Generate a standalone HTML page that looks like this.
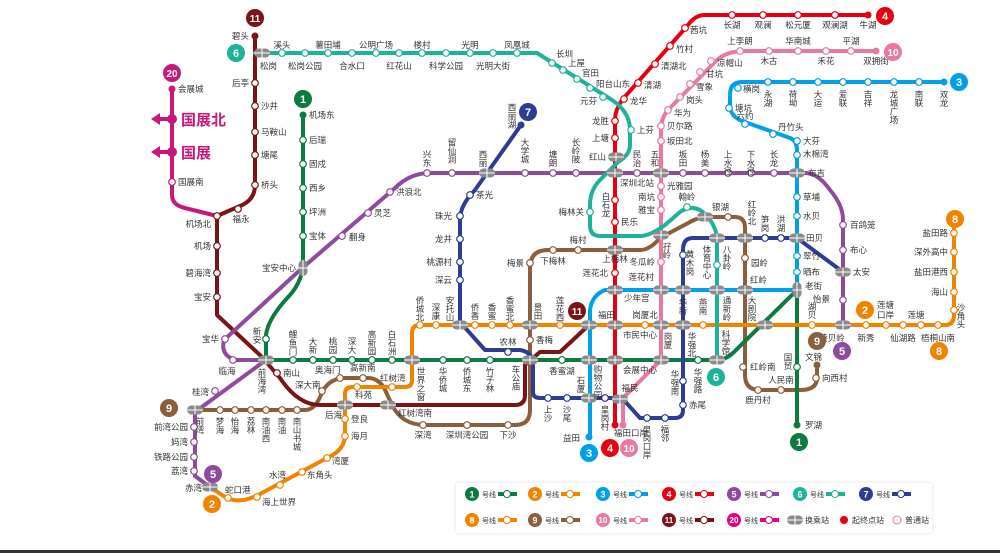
<!DOCTYPE html>
<html><head><meta charset="utf-8">
<style>
html,body{margin:0;padding:0;background:#fff;}
svg{display:block;}
text{font-family:"Liberation Sans","Noto Sans CJK SC",sans-serif;font-size:8.5px;fill:#333;}
.v{writing-mode:vertical-rl;text-orientation:upright;}
.e{text-anchor:end;}
.m{text-anchor:middle;}
.b{font-weight:bold;fill:#fff;text-anchor:middle;font-size:11px;}
.ln{fill:none;stroke-width:4;stroke-linejoin:round;stroke-linecap:round;}
.st circle{fill:#fff;stroke-width:1.2;}
</style></head><body>
<svg width="1000" height="553" viewBox="0 0 1000 553" xmlns="http://www.w3.org/2000/svg">
<defs>
<g id="ix"><rect x="-8" y="-4.5" width="16" height="9" rx="4.5" fill="#8a8a8a"/><path d="M0,-4.5V4.5M-8,0H8" stroke="#fff" stroke-width="1"/></g>
<g id="ixv"><rect x="-4.5" y="-8" width="9" height="16" rx="4.5" fill="#8a8a8a"/><path d="M0,-8V8M-4.5,0H4.5" stroke="#fff" stroke-width="1"/></g>
</defs>
<rect width="1000" height="553" fill="#fff"/>
<rect x="0" y="550" width="1000" height="3" fill="#333"/>

<!-- LINES -->
<path class="ln" stroke="#8B5E3C" d="M195,410 H305 Q316,410 322,392 Q330,378 345,378 H368 Q380,378 386,392 L392,405 Q402,425 425,425 H515 Q530,425 530,410 V268 Q530,250 548,250 H640 Q650,250 660,238 L690,222 Q698,217 710,217 H735 Q745,217 745,228 V375 Q745,390 760,390 H800 Q817,390 817,378 V365"/>
<path class="ln" stroke="#7A1419" d="M255,36 V185 Q255,200 240,206 L217,216 V315 L262,357 L280,378 Q298,405 320,405 H515 Q525,405 525,395 V365 L540,352 H560 L589,325"/>
<path class="ln" stroke="#C7177B" d="M172,89 V195 Q172,205 185,208 L217,216"/>
<path class="ln" stroke="#0B7B3E" d="M303,115 V262 Q303,280 290,295 Q268,318 266,335 V360 H717 Q726,360 734,352 L797,290 V425"/>
<path class="ln" stroke="#8E4B9E" d="M210,487 L195,476 V412 L266,360 H236 Q220,356 224,340 L300,270 L395,188 Q410,173 430,173 H805 Q818,173 830,190 Q843,205 843,220 V325"/>
<path class="ln" stroke="#F08300" d="M210,487 L225,497 Q240,505 260,494 L327,458 Q345,450 345,435 V394 Q345,387 352,387 H405 Q412,387 412,380 V333 Q412,325 420,325 H945 Q954,325 954,315 V228"/>
<path class="ln" stroke="#00A0E9" d="M944,82 H742 Q730,82 730,95 V108 Q732,118 745,122 L790,138 Q797,141 797,150 V290 H605 Q592,295 590,310 V437"/>
<path class="ln" stroke="#E9799F" d="M876,51 H745 Q725,51 715,62 L668,110 Q661,118 661,130 V360 L623,398 V425"/>
<path class="ln" stroke="#E60012" d="M868,15 H705 Q695,15 688,25 L622,100 Q615,110 615,120 V425"/>
<path class="ln" stroke="#1DB39A" d="M255,53 H537 L612,100 Q630,112 630,130 V145 Q630,155 618,162 L600,180 Q590,190 590,205 V225 Q590,236 600,236 H640 Q650,236 665,225 L680,212 Q690,205 700,210 Q712,218 717,235 V360"/>
<path class="ln" stroke="#2E3C95" d="M521,125 L475,190 Q460,205 460,220 V322 L485,350 H520 Q533,352 533,365 V392 Q533,398 540,398 H622 L640,418 H675 Q683,418 683,410 V250 Q683,238 693,238 H797 L843,272"/>
<!-- line 20 arrows -->
<path d="M172,119 H158 M172,152 H158" stroke="#C7177B" stroke-width="4"/>
<polygon points="151,119 160,113 160,125" fill="#C7177B"/>
<polygon points="151,152 160,146 160,158" fill="#C7177B"/>
<circle cx="172" cy="119" r="5" fill="#C7177B"/><circle cx="172" cy="152" r="5" fill="#C7177B"/>
<text x="181" y="125" style="font-size:15px;font-weight:bold;fill:#C7177B">国展北</text>
<text x="181" y="158" style="font-size:15px;font-weight:bold;fill:#C7177B">国展</text>

<!-- STATIONS -->
<g class="st" stroke="#7A1419"><circle cx="255" cy="83" r="3.3"/><circle cx="255" cy="106" r="3.3"/><circle cx="255" cy="132" r="3.3"/><circle cx="255" cy="155" r="3.3"/><circle cx="255" cy="185" r="3.3"/><circle cx="238" cy="209" r="3.3"/><circle cx="217" cy="216" r="3.3"/><circle cx="217" cy="246" r="3.3"/><circle cx="217" cy="273" r="3.3"/><circle cx="217" cy="297" r="3.3"/><circle cx="277" cy="373" r="3.3"/></g>
<circle cx="255" cy="36" r="3.5" fill="#7A1419"/>
<g class="st" stroke="#C7177B"><circle cx="172" cy="182" r="3.3"/></g><circle cx="172" cy="89" r="3.5" fill="#C7177B"/>
<g class="st" stroke="#1DB39A"><circle cx="282" cy="53" r="3.3"/><circle cx="305" cy="53" r="3.3"/><circle cx="328" cy="53" r="3.3"/><circle cx="352" cy="53" r="3.3"/><circle cx="376" cy="53" r="3.3"/><circle cx="399" cy="53" r="3.3"/><circle cx="422" cy="53" r="3.3"/><circle cx="446" cy="53" r="3.3"/><circle cx="470" cy="53" r="3.3"/><circle cx="493" cy="53" r="3.3"/><circle cx="517" cy="53" r="3.3"/><circle cx="552" cy="63" r="3.3"/><circle cx="563" cy="70" r="3.3"/><circle cx="577" cy="79" r="3.3"/><circle cx="590" cy="88" r="3.3"/><circle cx="603" cy="97" r="3.3"/><circle cx="631" cy="130" r="3.3"/><circle cx="590" cy="212" r="3.3"/><circle cx="687" cy="207" r="3.3"/><circle cx="717" cy="265" r="3.3"/></g>
<g class="st" stroke="#E60012"><circle cx="732" cy="15" r="3.3"/><circle cx="763" cy="15" r="3.3"/><circle cx="798" cy="15" r="3.3"/><circle cx="835" cy="15" r="3.3"/><circle cx="685" cy="28" r="3.3"/><circle cx="670" cy="46" r="3.3"/><circle cx="655" cy="64" r="3.3"/><circle cx="638" cy="83" r="3.3"/><circle cx="624" cy="99" r="3.3"/><circle cx="615" cy="121" r="3.3"/><circle cx="615" cy="138" r="3.3"/><circle cx="615" cy="200" r="3.3"/><circle cx="615" cy="222" r="3.3"/><circle cx="615" cy="273" r="3.3"/></g>
<circle cx="868" cy="15" r="3.5" fill="#E60012"/><circle cx="615" cy="425" r="3.5" fill="#E60012"/>
<g class="st" stroke="#E9799F"><circle cx="740" cy="51" r="3.3"/><circle cx="769" cy="51" r="3.3"/><circle cx="798" cy="51" r="3.3"/><circle cx="826" cy="51" r="3.3"/><circle cx="851" cy="51" r="3.3"/><circle cx="711" cy="61" r="3.3"/><circle cx="700" cy="72" r="3.3"/><circle cx="690" cy="84" r="3.3"/><circle cx="680" cy="97" r="3.3"/><circle cx="668" cy="110" r="3.3"/><circle cx="661" cy="126" r="3.3"/><circle cx="661" cy="141" r="3.3"/><circle cx="661" cy="186" r="3.3"/><circle cx="661" cy="197" r="3.3"/><circle cx="661" cy="210" r="3.3"/><circle cx="661" cy="262" r="3.3"/></g>
<circle cx="876" cy="51" r="3.5" fill="#E9799F"/><circle cx="623" cy="425" r="3.5" fill="#E9799F"/>
<g class="st" stroke="#00A0E9"><circle cx="768" cy="82" r="3.3"/><circle cx="793" cy="82" r="3.3"/><circle cx="818" cy="82" r="3.3"/><circle cx="843" cy="82" r="3.3"/><circle cx="868" cy="82" r="3.3"/><circle cx="894" cy="82" r="3.3"/><circle cx="919" cy="82" r="3.3"/><circle cx="738" cy="88" r="3.3"/><circle cx="729" cy="108" r="3.3"/><circle cx="745" cy="124" r="3.3"/><circle cx="773" cy="134" r="3.3"/><circle cx="797" cy="141" r="3.3"/><circle cx="797" cy="155" r="3.3"/><circle cx="797" cy="197" r="3.3"/><circle cx="797" cy="216" r="3.3"/><circle cx="797" cy="256" r="3.3"/><circle cx="797" cy="272" r="3.3"/></g>
<circle cx="944" cy="82" r="3.5" fill="#00A0E9"/><circle cx="589" cy="437" r="3.5" fill="#00A0E9"/>
<g class="st" stroke="#8E4B9E"><circle cx="843" cy="300" r="3.3"/><circle cx="843" cy="250" r="3.3"/><circle cx="843" cy="225" r="3.3"/><circle cx="774" cy="173" r="3.3"/><circle cx="751" cy="173" r="3.3"/><circle cx="728" cy="173" r="3.3"/><circle cx="705" cy="173" r="3.3"/><circle cx="683" cy="173" r="3.3"/><circle cx="637" cy="173" r="3.3"/><circle cx="576" cy="173" r="3.3"/><circle cx="553" cy="173" r="3.3"/><circle cx="525" cy="173" r="3.3"/><circle cx="452" cy="173" r="3.3"/><circle cx="427" cy="173" r="3.3"/><circle cx="390" cy="192" r="3.3"/><circle cx="368" cy="213" r="3.3"/><circle cx="342" cy="236" r="3.3"/><circle cx="225" cy="339" r="3.3"/><circle cx="233" cy="360" r="3.3"/><circle cx="215" cy="391" r="3.3"/><circle cx="194" cy="427" r="3.3"/><circle cx="194" cy="442" r="3.3"/><circle cx="194" cy="457" r="3.3"/><circle cx="194" cy="471" r="3.3"/></g>
<g class="st" stroke="#2E3C95"><circle cx="470" cy="195" r="3.3"/><circle cx="460" cy="216" r="3.3"/><circle cx="460" cy="239" r="3.3"/><circle cx="460" cy="262" r="3.3"/><circle cx="460" cy="280" r="3.3"/><circle cx="508" cy="352" r="3.3"/><circle cx="548" cy="398" r="3.3"/><circle cx="567" cy="398" r="3.3"/><circle cx="605" cy="398" r="3.3"/><circle cx="647" cy="418" r="3.3"/><circle cx="665" cy="418" r="3.3"/><circle cx="683" cy="405" r="3.3"/><circle cx="683" cy="381" r="3.3"/><circle cx="683" cy="255" r="3.3"/><circle cx="765" cy="238" r="3.3"/><circle cx="781" cy="238" r="3.3"/></g>
<circle cx="521" cy="125" r="3.5" fill="#2E3C95"/>
<g class="st" stroke="#8B5E3C"><circle cx="220" cy="410" r="3.3"/><circle cx="235" cy="410" r="3.3"/><circle cx="251" cy="410" r="3.3"/><circle cx="266" cy="410" r="3.3"/><circle cx="282" cy="410" r="3.3"/><circle cx="297" cy="410" r="3.3"/><circle cx="322" cy="391" r="3.3"/><circle cx="340" cy="378" r="3.3"/><circle cx="363" cy="378" r="3.3"/><circle cx="423" cy="425" r="3.3"/><circle cx="467" cy="425" r="3.3"/><circle cx="508" cy="425" r="3.3"/><circle cx="530" cy="340" r="3.3"/><circle cx="530" cy="263" r="3.3"/><circle cx="553" cy="250" r="3.3"/><circle cx="578" cy="250" r="3.3"/><circle cx="728" cy="217" r="3.3"/><circle cx="745" cy="258" r="3.3"/><circle cx="743" cy="367" r="3.3"/><circle cx="758" cy="390" r="3.3"/><circle cx="781" cy="390" r="3.3"/><circle cx="816" cy="378" r="3.3"/></g>
<circle cx="817" cy="365" r="3.5" fill="#8B5E3C"/>
<g class="st" stroke="#0B7B3E"><circle cx="303" cy="140" r="3.3"/><circle cx="303" cy="164" r="3.3"/><circle cx="303" cy="188" r="3.3"/><circle cx="303" cy="212" r="3.3"/><circle cx="303" cy="236" r="3.3"/><circle cx="266" cy="339" r="3.3"/><circle cx="293" cy="360" r="3.3"/><circle cx="313" cy="360" r="3.3"/><circle cx="333" cy="360" r="3.3"/><circle cx="352" cy="360" r="3.3"/><circle cx="372" cy="360" r="3.3"/><circle cx="392" cy="360" r="3.3"/><circle cx="443" cy="360" r="3.3"/><circle cx="467" cy="360" r="3.3"/><circle cx="490" cy="360" r="3.3"/><circle cx="562" cy="360" r="3.3"/><circle cx="698" cy="360" r="3.3"/><circle cx="797" cy="367" r="3.3"/></g>
<circle cx="303" cy="115" r="3.5" fill="#0B7B3E"/><circle cx="797" cy="425" r="3.5" fill="#0B7B3E"/>
<g class="st" stroke="#F08300"><circle cx="228" cy="498" r="3.3"/><circle cx="257" cy="497" r="3.3"/><circle cx="280" cy="485" r="3.3"/><circle cx="302" cy="472" r="3.3"/><circle cx="327" cy="458" r="3.3"/><circle cx="345" cy="436" r="3.3"/><circle cx="345" cy="419" r="3.3"/><circle cx="357" cy="387" r="3.3"/><circle cx="392" cy="387" r="3.3"/><circle cx="420" cy="325" r="3.3"/><circle cx="436" cy="325" r="3.3"/><circle cx="475" cy="325" r="3.3"/><circle cx="492" cy="325" r="3.3"/><circle cx="510" cy="325" r="3.3"/><circle cx="560" cy="325" r="3.3"/><circle cx="645" cy="325" r="3.3"/><circle cx="703" cy="325" r="3.3"/><circle cx="812" cy="325" r="3.3"/><circle cx="866" cy="325" r="3.3"/><circle cx="886" cy="325" r="3.3"/><circle cx="903" cy="325" r="3.3"/><circle cx="921" cy="325" r="3.3"/><circle cx="938" cy="325" r="3.3"/><circle cx="954" cy="310" r="3.3"/><circle cx="954" cy="292" r="3.3"/><circle cx="954" cy="272" r="3.3"/><circle cx="954" cy="252" r="3.3"/><circle cx="954" cy="233" r="3.3"/></g>

<!-- INTERCHANGES -->
<g>
<use href="#ix" x="262" y="53"/><use href="#ixv" x="303" y="268"/><use href="#ix" x="266" y="360"/>
<use href="#ix" x="195" y="410"/><use href="#ix" x="210" y="487"/><use href="#ix" x="345" y="405"/><use href="#ix" x="388" y="405"/>
<use href="#ix" x="412" y="360"/><use href="#ix" x="460" y="325"/><use href="#ix" x="530" y="325"/><use href="#ix" x="530" y="360"/>
<use href="#ix" x="487" y="173"/><use href="#ix" x="616" y="157"/><use href="#ix" x="615" y="173"/><use href="#ix" x="661" y="173"/>
<use href="#ix" x="797" y="173"/><use href="#ix" x="661" y="235"/><use href="#ix" x="705" y="217"/><use href="#ix" x="717" y="238"/>
<use href="#ix" x="745" y="238"/><use href="#ix" x="797" y="238"/><use href="#ix" x="843" y="272"/><use href="#ix" x="615" y="250"/>
<use href="#ix" x="615" y="290"/><use href="#ix" x="661" y="290"/><use href="#ix" x="683" y="290"/><use href="#ix" x="717" y="290"/>
<use href="#ix" x="745" y="290"/><use href="#ixv" x="797" y="290"/><use href="#ix" x="589" y="325"/><use href="#ix" x="615" y="325"/>
<use href="#ix" x="661" y="325"/><use href="#ix" x="683" y="325"/><use href="#ix" x="765" y="325"/><use href="#ix" x="843" y="325"/>
<use href="#ix" x="589" y="360"/><use href="#ix" x="615" y="360"/><use href="#ix" x="661" y="360"/><use href="#ix" x="717" y="360"/>
<use href="#ix" x="589" y="398"/><use href="#ix" x="620" y="399"/>
</g>

<!-- LABELS -->
<g>
<text x="249" y="39" class="e">碧头</text><text x="249" y="86" class="e">后亭</text><text x="261" y="109">沙井</text><text x="261" y="135">马鞍山</text><text x="261" y="158">塘尾</text><text x="261" y="188">桥头</text>
<text x="241" y="222" class="m">福永</text><text x="211" y="227" class="e">机场北</text><text x="211" y="249" class="e">机场</text><text x="211" y="276" class="e">碧海湾</text><text x="211" y="300" class="e">宝安</text>
<text x="178" y="92">会展城</text><text x="178" y="185">国展南</text>
<text x="260" y="69">松岗</text><text x="282" y="48" class="m">溪头</text><text x="305" y="69" class="m">松岗公园</text><text x="328" y="48" class="m">薯田埔</text><text x="352" y="69" class="m">合水口</text><text x="376" y="48" class="m">公明广场</text><text x="399" y="69" class="m">红花山</text><text x="422" y="48" class="m">楼村</text><text x="446" y="69" class="m">科学公园</text><text x="470" y="48" class="m">光明</text><text x="493" y="69" class="m">光明大街</text><text x="517" y="48" class="m">凤凰城</text>
<text x="556" y="57">长圳</text><text x="568" y="66">上屋</text><text x="582" y="76">官田</text><text x="596" y="87">阳台山东</text><text x="597" y="104" class="e">元芬</text><text x="637" y="133">上芬</text>
<text x="309" y="118">机场东</text><text x="309" y="143">后瑞</text><text x="309" y="167">固戍</text><text x="309" y="191">西乡</text><text x="309" y="215">坪洲</text><text x="309" y="239">宝体</text><text x="296" y="271" class="e">宝安中心</text>
<text x="349" y="240">翻身</text><text x="374" y="216">灵芝</text><text x="396" y="195">洪浪北</text>
<text x="219" y="342" class="e">宝华</text><text x="227" y="374" class="m">临海</text><text x="209" y="395" class="e">桂湾</text>
<text x="188" y="430" class="e">前湾公园</text><text x="188" y="445" class="e">妈湾</text><text x="188" y="460" class="e">铁路公园</text><text x="188" y="474" class="e">荔湾</text><text x="202" y="491" class="e">赤湾</text>
<text x="225" y="493">蛇口港</text><text x="262" y="505">海上世界</text><text x="269" y="478">水湾</text><text x="307" y="478">东角头</text><text x="332" y="464">湾厦</text><text x="351" y="439">海月</text><text x="351" y="422">登良</text><text x="325" y="418">后海</text><text x="355" y="398">科苑</text><text x="380" y="381">红树湾</text><text x="398" y="416">红树湾南</text>
<text x="283" y="376">南山</text><text x="295" y="388">深大南</text><text x="315" y="373">奥海门</text><text x="350" y="371">高新南</text>
<text x="423" y="438" class="m">深湾</text><text x="467" y="438" class="m">深圳湾公园</text><text x="508" y="438" class="m">下沙</text>
<text x="200" y="417" class="v">前湾</text><text x="220" y="417" class="v">梦海</text><text x="235" y="417" class="v">怡海</text><text x="251" y="417" class="v">荔林</text><text x="266" y="417" class="v">南油西</text><text x="282" y="417" class="v">南油</text><text x="297" y="417" class="v">南山书城</text>
<text x="257" y="327" class="v">新安</text><text x="262" y="368" class="v">前海湾</text>
<text x="293" y="330" class="v">鲤鱼门</text><text x="313" y="337" class="v">大新</text><text x="333" y="337" class="v">桃园</text><text x="352" y="337" class="v">深大</text><text x="372" y="330" class="v">高新园</text><text x="392" y="330" class="v">白石洲</text>
<text x="421" y="367" class="v">世界之窗</text><text x="443" y="367" class="v">华侨城</text><text x="467" y="367" class="v">侨城东</text><text x="490" y="367" class="v">竹子林</text><text x="516" y="365" class="v">车公庙</text>
<text x="420" y="296" class="v">侨城北</text><text x="436" y="303" class="v">深康</text><text x="450" y="296" class="v">安托山</text><text x="475" y="303" class="v">侨香</text><text x="492" y="303" class="v">香蜜</text><text x="510" y="296" class="v">香蜜北</text><text x="538" y="303" class="v">景田</text><text x="560" y="296" class="v">莲花西</text>
<text x="508" y="345" class="m">农林</text><text x="536" y="343">香梅</text><text x="562" y="374" class="m">香蜜湖</text>
<text x="548" y="405" class="v">上沙</text><text x="567" y="405" class="v">沙尾</text><text x="581" y="376" class="v">石厦</text><text x="598" y="365" class="v">购物公园</text><text x="605" y="405" class="v">皇岗村</text><text x="580" y="441" class="e">益田</text>
<text x="630" y="391" class="m">福民</text><text x="631" y="436" class="m">福田口岸</text><text x="647" y="425" class="v">皇岗口岸</text><text x="665" y="425" class="v">福邻</text><text x="689" y="408">赤尾</text>
<text x="675" y="370" class="v">华强南</text><text x="698" y="368" class="v">华强路</text><text x="692" y="332" class="v">华强北</text><text x="668" y="332" class="v">岗厦</text>
<text x="640" y="338" class="m">市民中心</text><text x="640" y="373" class="m">会展中心</text><text x="598" y="318">福田</text><text x="645" y="318" class="m">岗厦北</text>
<text x="624" y="301">少年宫</text><text x="654" y="280" class="e">莲花村</text><text x="683" y="298" class="v">华新</text><text x="703" y="298" class="v">燕南</text>
<text x="727" y="296" class="v">通新岭</text><text x="726" y="330" class="v">科学馆</text><text x="752" y="296" class="v">大剧院</text>
<text x="750" y="370">红岭南</text><text x="758" y="403" class="m">鹿丹村</text><text x="781" y="383" class="m">人民南</text><text x="822" y="381">向西村</text><text x="805" y="360">文锦</text>
<text x="788" y="353" class="v">国贸</text><text x="805" y="428">罗湖</text>
<text x="812" y="302" class="v">湖贝</text><text x="830" y="302" class="e">怡景</text><text x="832" y="341" class="m">黄贝岭</text><text x="866" y="341" class="m">新秀</text>
<text x="877" y="308">莲塘</text><text x="877" y="318">口岸</text><text x="903" y="341" class="m">仙湖路</text><text x="916" y="318" class="m">莲塘</text><text x="938" y="341" class="m">梧桐山南</text>
<text x="961" y="303" class="v">沙角头</text><text x="948" y="295" class="e">海山</text><text x="948" y="275" class="e">盐田港西</text><text x="948" y="255" class="e">深外高中</text><text x="948" y="236" class="e">盐田路</text>
<text x="850" y="228">百鸽笼</text><text x="850" y="253">布心</text><text x="853" y="275">太安</text>
<text x="803" y="144">大芬</text><text x="803" y="157">木棉湾</text><text x="808" y="176">布吉</text><text x="803" y="200">草埔</text><text x="803" y="219">水贝</text><text x="806" y="241">田贝</text><text x="803" y="259">翠竹</text><text x="803" y="275">晒布</text><text x="805" y="289">老街</text>
<text x="743" y="92">横岗</text><text x="735" y="111">塘坑</text><text x="745" y="119" class="m">六约</text><text x="778" y="130">丹竹头</text>
<text x="768" y="90" class="v">永湖</text><text x="793" y="90" class="v">荷坳</text><text x="818" y="90" class="v">大运</text><text x="843" y="90" class="v">爱联</text><text x="868" y="90" class="v">吉祥</text><text x="894" y="90" class="v">龙城广场</text><text x="919" y="90" class="v">南联</text><text x="944" y="90" class="v">双龙</text>
<text x="732" y="28" class="m">长湖</text><text x="763" y="28" class="m">观澜</text><text x="798" y="28" class="m">松元厦</text><text x="835" y="28" class="m">观澜湖</text><text x="868" y="28" class="m">牛湖</text>
<text x="690" y="33">茜坑</text><text x="676" y="52">竹村</text><text x="661" y="69">清湖北</text><text x="644" y="88">清湖</text><text x="630" y="104">龙华</text>
<text x="609" y="124" class="e">龙胜</text><text x="609" y="141" class="e">上塘</text><text x="606" y="160" class="e">红山</text><text x="620" y="186">深圳北站</text><text x="606" y="192" class="v">白石龙</text><text x="621" y="225">民乐</text><text x="615" y="262" class="m">上梅林</text><text x="608" y="276" class="e">莲花北</text>
<text x="740" y="44" class="m">上李朗</text><text x="769" y="64" class="m">木古</text><text x="798" y="44" class="m">华南城</text><text x="826" y="64" class="m">禾花</text><text x="851" y="44" class="m">平湖</text><text x="876" y="64" class="m">双拥街</text>
<text x="717" y="66">凉帽山</text><text x="706" y="77">甘坑</text><text x="696" y="90">雪象</text><text x="686" y="103">岗头</text><text x="674" y="116">华为</text><text x="667" y="129">贝尔路</text><text x="667" y="144">坂田北</text>
<text x="667" y="189">光雅园</text><text x="655" y="200" class="e">南坑</text><text x="655" y="213" class="e">雅宝</text><text x="655" y="265" class="e">冬瓜岭</text><text x="667" y="242" class="v">孖岭</text>
<text x="584" y="215" class="e">梅林关</text><text x="687" y="200" class="m">翰岭</text><text x="712" y="210">银湖</text>
<text x="553" y="264" class="m">下梅林</text><text x="578" y="243" class="m">梅村</text><text x="524" y="266" class="e">梅景</text>
<text x="690" y="250" class="v">黄木岗</text><text x="707" y="245" class="v">体育中心</text><text x="727" y="245" class="v">八卦岭</text><text x="751" y="266">园岭</text><text x="750" y="283">红岭</text>
<text x="752" y="200" class="v">红岭北</text><text x="765" y="215" class="v">笋岗</text><text x="781" y="215" class="v">洪湖</text>
<text x="774" y="150" class="v">长龙</text><text x="751" y="150" class="v">下水径</text><text x="728" y="150" class="v">上水径</text><text x="705" y="150" class="v">杨美</text><text x="683" y="150" class="v">坂田</text><text x="655" y="150" class="v">五和</text><text x="637" y="150" class="v">民治</text>
<text x="576" y="138" class="v">长岭陂</text><text x="553" y="150" class="v">塘朗</text><text x="525" y="138" class="v">大学城</text><text x="483" y="150" class="v">西丽</text><text x="452" y="138" class="v">留仙洞</text><text x="427" y="150" class="v">兴东</text>
<text x="512" y="103" class="v">西丽湖</text><text x="476" y="198">茶光</text><text x="452" y="219" class="e">珠光</text><text x="452" y="242" class="e">龙井</text><text x="452" y="265" class="e">桃源村</text><text x="452" y="283" class="e">深云</text>
</g>

<!-- BADGES -->
<g>
<circle cx="255" cy="18" r="9" fill="#7A1419"/><text x="255" y="22" class="b" style="font-size:10px">11</text>
<circle cx="236" cy="53" r="9" fill="#1DB39A"/><text x="236" y="57" class="b">6</text>
<circle cx="172" cy="73" r="9" fill="#C7177B"/><text x="172" y="77" class="b" style="font-size:10px">20</text>
<circle cx="303" cy="99" r="9" fill="#0B7B3E"/><text x="303" y="103" class="b">1</text>
<circle cx="528" cy="112" r="9" fill="#2E3C95"/><text x="528" y="116" class="b">7</text>
<circle cx="885" cy="16" r="9" fill="#E60012"/><text x="885" y="20" class="b">4</text>
<circle cx="893" cy="52" r="9" fill="#E9799F"/><text x="893" y="56" class="b" style="font-size:10px">10</text>
<circle cx="959" cy="82" r="9" fill="#00A0E9"/><text x="959" y="86" class="b">3</text>
<circle cx="955" cy="219" r="9" fill="#F08300"/><text x="955" y="223" class="b">8</text>
<circle cx="865" cy="310" r="9" fill="#F08300"/><text x="865" y="314" class="b">2</text>
<circle cx="817" cy="341" r="9" fill="#8B5E3C"/><text x="817" y="345" class="b">9</text>
<circle cx="842" cy="351" r="9" fill="#8E4B9E"/><text x="842" y="355" class="b">5</text>
<circle cx="939" cy="351" r="9" fill="#F08300"/><text x="939" y="355" class="b">8</text>
<circle cx="716" cy="377" r="9" fill="#1DB39A"/><text x="716" y="381" class="b">6</text>
<circle cx="799" cy="442" r="9" fill="#0B7B3E"/><text x="799" y="446" class="b">1</text>
<circle cx="589" cy="453" r="9" fill="#00A0E9"/><text x="589" y="457" class="b">3</text>
<circle cx="610" cy="448" r="9" fill="#E60012"/><text x="610" y="452" class="b">4</text>
<circle cx="629" cy="448" r="9" fill="#E9799F"/><text x="629" y="452" class="b" style="font-size:10px">10</text>
<circle cx="577" cy="311" r="9" fill="#7A1419"/><text x="577" y="315" class="b" style="font-size:10px">11</text>
<circle cx="169" cy="408" r="9" fill="#8B5E3C"/><text x="169" y="412" class="b">9</text>
<circle cx="213" cy="474" r="9" fill="#8E4B9E"/><text x="213" y="478" class="b">5</text>
<circle cx="212" cy="504" r="9" fill="#F08300"/><text x="212" y="508" class="b">2</text>
</g>

<!-- LEGEND -->
<rect x="455" y="482" width="478" height="52" rx="4" fill="#fff" stroke="#eee"/>
<g>
<g transform="translate(472,494)"><circle r="7" fill="#0B7B3E"/><text y="3.5" class="b" style="font-size:9px">1</text><text x="10" y="3" style="font-size:7px">号线</text><path d="M26,0H45" stroke="#0B7B3E" stroke-width="4"/><circle cx="35" r="3.5" fill="#fff" stroke="#0B7B3E"/></g>
<g transform="translate(535,494)"><circle r="7" fill="#F08300"/><text y="3.5" class="b" style="font-size:9px">2</text><text x="10" y="3" style="font-size:7px">号线</text><path d="M26,0H45" stroke="#F08300" stroke-width="4"/><circle cx="35" r="3.5" fill="#fff" stroke="#F08300"/></g>
<g transform="translate(603,494)"><circle r="7" fill="#00A0E9"/><text y="3.5" class="b" style="font-size:9px">3</text><text x="10" y="3" style="font-size:7px">号线</text><path d="M26,0H45" stroke="#00A0E9" stroke-width="4"/><circle cx="35" r="3.5" fill="#fff" stroke="#00A0E9"/></g>
<g transform="translate(669,494)"><circle r="7" fill="#E60012"/><text y="3.5" class="b" style="font-size:9px">4</text><text x="10" y="3" style="font-size:7px">号线</text><path d="M26,0H45" stroke="#E60012" stroke-width="4"/><circle cx="35" r="3.5" fill="#fff" stroke="#E60012"/></g>
<g transform="translate(734,494)"><circle r="7" fill="#8E4B9E"/><text y="3.5" class="b" style="font-size:9px">5</text><text x="10" y="3" style="font-size:7px">号线</text><path d="M26,0H45" stroke="#8E4B9E" stroke-width="4"/><circle cx="35" r="3.5" fill="#fff" stroke="#8E4B9E"/></g>
<g transform="translate(800,494)"><circle r="7" fill="#1DB39A"/><text y="3.5" class="b" style="font-size:9px">6</text><text x="10" y="3" style="font-size:7px">号线</text><path d="M26,0H45" stroke="#1DB39A" stroke-width="4"/><circle cx="35" r="3.5" fill="#fff" stroke="#1DB39A"/></g>
<g transform="translate(866,494)"><circle r="7" fill="#2E3C95"/><text y="3.5" class="b" style="font-size:9px">7</text><text x="10" y="3" style="font-size:7px">号线</text><path d="M26,0H45" stroke="#2E3C95" stroke-width="4"/><circle cx="35" r="3.5" fill="#fff" stroke="#2E3C95"/></g>
<g transform="translate(472,520)"><circle r="7" fill="#F08300"/><text y="3.5" class="b" style="font-size:9px">8</text><text x="10" y="3" style="font-size:7px">号线</text><path d="M26,0H45" stroke="#F08300" stroke-width="4"/><circle cx="35" r="3.5" fill="#fff" stroke="#F08300"/></g>
<g transform="translate(535,520)"><circle r="7" fill="#8B5E3C"/><text y="3.5" class="b" style="font-size:9px">9</text><text x="10" y="3" style="font-size:7px">号线</text><path d="M26,0H45" stroke="#8B5E3C" stroke-width="4"/><circle cx="35" r="3.5" fill="#fff" stroke="#8B5E3C"/></g>
<g transform="translate(603,520)"><circle r="7" fill="#E9799F"/><text y="3" class="b" style="font-size:8px">10</text><text x="10" y="3" style="font-size:7px">号线</text><path d="M26,0H45" stroke="#E9799F" stroke-width="4"/><circle cx="35" r="3.5" fill="#fff" stroke="#E9799F"/></g>
<g transform="translate(669,520)"><circle r="7" fill="#7A1419"/><text y="3" class="b" style="font-size:8px">11</text><text x="10" y="3" style="font-size:7px">号线</text><path d="M26,0H45" stroke="#7A1419" stroke-width="4"/><circle cx="35" r="3.5" fill="#fff" stroke="#7A1419"/></g>
<g transform="translate(734,520)"><circle r="7" fill="#E5007F"/><text y="3" class="b" style="font-size:8px">20</text><text x="10" y="3" style="font-size:7px">号线</text><path d="M26,0H45" stroke="#E5007F" stroke-width="4"/><circle cx="35" r="3.5" fill="#fff" stroke="#E5007F"/></g>
<use href="#ix" x="795" y="520"/><text x="805" y="523" style="font-size:8px">换乘站</text>
<circle cx="844" cy="520" r="4" fill="#E60012"/><text x="852" y="523" style="font-size:8px">起终点站</text>
<circle cx="897" cy="520" r="4" fill="#fff" stroke="#E9799F"/><text x="905" y="523" style="font-size:8px">普通站</text>
</g>
</svg>
</body></html>
